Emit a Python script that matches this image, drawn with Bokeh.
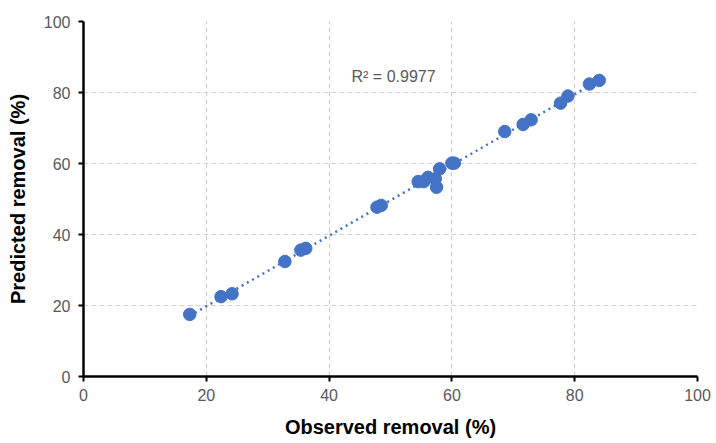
import numpy as np
from bokeh.plotting import figure
from bokeh.models import Label, FixedTicker, ColumnDataSource
from bokeh.embed import file_html
from bokeh.resources import INLINE

observed = [17.3, 22.4, 24.2, 32.8, 35.4, 36.2, 47.8, 48.5, 54.5, 55.4, 56.1, 57.3, 57.5,
            58.0, 60.0, 60.4, 68.6, 71.6, 72.9, 77.7, 78.9, 82.4, 84.0]
predicted = [17.5, 22.5, 23.3, 32.4, 35.6, 36.1, 47.7, 48.2, 54.9, 54.9, 56.1, 55.7, 53.3,
             58.5, 60.1, 60.1, 69.0, 71.0, 72.3, 77.0, 79.0, 82.4, 83.4]
tick_values = [0, 20, 40, 60, 80, 100]
r2_text = "R² = 0.9977"
x_title = "Observed removal (%)"
y_title = "Predicted removal (%)"

blue = "#4472C4"
gray_text = "#595959"

p = figure(width=714, height=441, x_range=(0, 100), y_range=(0, 100),
           output_backend="svg", toolbar_location=None,
           min_border_left=83, min_border_right=17, min_border_top=21, min_border_bottom=65)
p.outline_line_color = None
p.background_fill_color = "white"
p.border_fill_color = "white"

# trend line (least squares)
slope, intercept = np.polyfit(observed, predicted, 1)
xs = [min(observed), max(observed)]
ys = [slope * v + intercept for v in xs]
p.line(xs, ys, line_color=blue, line_width=2.5, line_dash="2 4")

src = ColumnDataSource(dict(x=observed, y=predicted))
p.scatter("x", "y", source=src, size=12.5, fill_color=blue, line_color=blue, line_width=1)

for ax in (p.xaxis[0], p.yaxis[0]):
    ax.ticker = FixedTicker(ticks=tick_values)
    ax.axis_line_color = "black"
    ax.axis_line_width = 2.5
    ax.major_tick_line_color = "black"
    ax.major_tick_line_width = 2
    ax.major_tick_out = 5
    ax.major_tick_in = 0
    ax.minor_tick_line_color = None
    ax.major_label_text_font = "Liberation Sans"
    ax.major_label_text_font_size = "16px"
    ax.major_label_text_color = gray_text
    ax.axis_label_text_font = "Liberation Sans"
    ax.axis_label_text_font_style = "bold"
    ax.axis_label_text_font_size = "20px"
    ax.axis_label_text_color = "black"

p.xaxis.axis_label = x_title
p.yaxis.axis_label = y_title
p.xaxis.major_label_standoff = 7
p.yaxis.major_label_standoff = 8
p.xaxis.axis_label_standoff = 12
p.yaxis.axis_label_standoff = 12

for g in (p.xgrid[0], p.ygrid[0]):
    g.ticker = FixedTicker(ticks=tick_values)
    g.grid_line_color = "#D0D0D0"
    g.grid_line_width = 1.2
    g.grid_line_dash = "5 3"

p.add_layout(Label(x=50.5, y=84.5, text=r2_text, text_align="center", text_baseline="middle",
                   text_font="Liberation Sans", text_font_size="16px", text_color=gray_text))

open("out.html", "w").write(file_html(p, INLINE))
